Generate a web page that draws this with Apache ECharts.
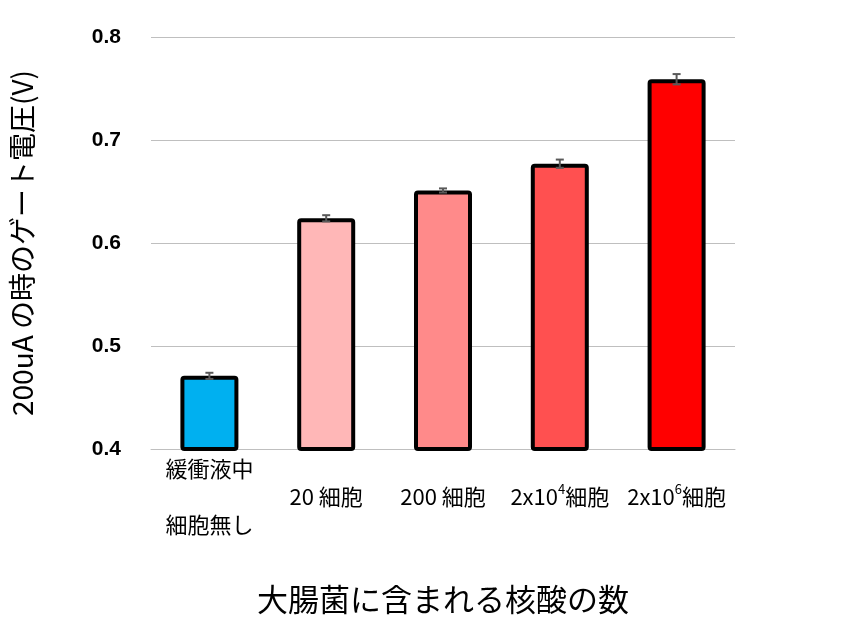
<!DOCTYPE html>
<html>
<head>
<meta charset="UTF-8">
<script src="https://cdn.jsdelivr.net/npm/echarts@6/dist/echarts.min.js"></script>
<style>body{margin:0;background:#fff}</style>
</head>
<body>
<div id="container" style="width:850px;height:620px;"></div>
<script>
// データ
var categories = ['緩衝液中\n \n細胞無し', ' \n20 細胞\n ', ' \n200 細胞\n ', ' \n2x10{sup|4}細胞\n ', ' \n2x10{sup|6}細胞\n '];
var values = [0.471, 0.624, 0.651, 0.677, 0.759];
var errors = [0.003, 0.003, 0.002, 0.004, 0.005];
var colors = ['#00b0f0', '#ffb7b7', '#ff8a8a', '#ff5050', '#ff0000'];

var jp = '"Noto Sans CJK JP", sans-serif';
var chart = echarts.init(document.getElementById('container'));

chart.setOption({
    animation: false,
    grid: {left: 148, right: 115, top: 37, bottom: 155},
    xAxis: {
        type: 'category',
        data: categories,
        axisTick: {show: false},
        axisLine: {lineStyle: {color: '#bfbfbf'}},
        axisLabel: {
            interval: 0, margin: 6, color: '#000', fontFamily: jp, fontSize: 22, lineHeight: 28,
            rich: {sup: {fontSize: 13, verticalAlign: 'top', padding: [0, 0, 10, 0], fontFamily: jp, color: '#000'}}
        },
        name: '大腸菌に含まれる核酸の数',
        nameLocation: 'middle', nameGap: 135,
        nameTextStyle: {fontFamily: jp, fontSize: 31, color: '#000'}
    },
    yAxis: {
        type: 'value', min: 0.4, max: 0.8, interval: 0.1,
        axisLabel: {formatter: function (v) { return v.toFixed(1); }, fontWeight: 'bold',
            fontFamily: 'Liberation Sans', fontSize: 21, color: '#000', margin: 30},
        splitLine: {lineStyle: {color: '#bfbfbf', width: 1}},
        name: '200uA の時のゲート電圧(V)',
        nameLocation: 'middle', nameGap: 115,
        nameTextStyle: {fontFamily: jp, fontSize: 28, color: '#000'}
    },
    series: [{
        type: 'bar',
        barWidth: 58,
        data: values.map(function (v, i) {
            return {value: v, itemStyle: {color: colors[i], borderColor: '#000', borderWidth: 4, borderRadius: 2}};
        })
    }, {
        type: 'custom',
        data: values.map(function (v, i) { return [i, v - errors[i], v + errors[i]]; }),
        renderItem: function (params, api) {
            var lo = api.coord([api.value(0), api.value(1)]);
            var hi = api.coord([api.value(0), api.value(2)]);
            var x = lo[0], w = 4;
            var s = {stroke: '#595959', lineWidth: 2};
            return {type: 'group', children: [
                {type: 'line', shape: {x1: x, y1: lo[1], x2: x, y2: hi[1]}, style: s},
                {type: 'line', shape: {x1: x - w, y1: lo[1], x2: x + w, y2: lo[1]}, style: s},
                {type: 'line', shape: {x1: x - w, y1: hi[1], x2: x + w, y2: hi[1]}, style: s}
            ]};
        },
        z: 10
    }]
});
</script>
</body>
</html>
